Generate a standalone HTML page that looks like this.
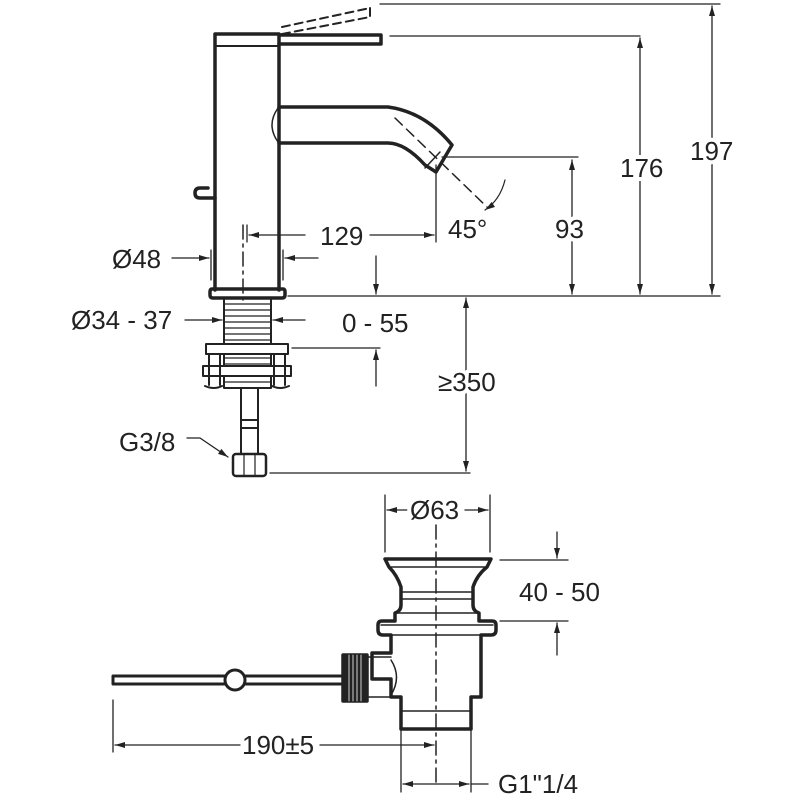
<!DOCTYPE html>
<html><head><style>html,body{margin:0;padding:0;background:#fff}svg{display:block}text{font-family:"Liberation Sans",sans-serif;fill:#222;font-size:26px;stroke:#fff;stroke-width:8px;paint-order:stroke;stroke-linejoin:round}</style></head>
<body>
<svg width="800" height="800" viewBox="0 0 800 800" xmlns="http://www.w3.org/2000/svg">
<defs>
<marker id="a" viewBox="0 0 10 6" refX="10" refY="3" markerWidth="14" markerHeight="6" markerUnits="userSpaceOnUse" orient="auto-start-reverse"><path d="M0,0L10,3L0,6z" fill="#222"/></marker>
</defs>
<g fill="none" stroke="#222" stroke-linecap="round" stroke-linejoin="round">
<g stroke-width="3.5">
<path d="M215,290V34H279V290"/>
<path d="M279,35H381V44H279"/>
<path d="M279,107H388Q425,112 452,145L436,172L425,165Q405,143 388,143H279"/>
<path d="M212,289H283Q285,289 285,292V295Q285,298 282,298H213Q210,298 210,295V292Q210,289 212,289Z"/>
<path d="M215,198H200Q195,198 195,193Q195,188 200,188H208"/>
</g>
<path d="M216,46H278" stroke-width="2"/>
<path d="M278,108Q266,125 278,142" stroke-width="1.5"/>
<path d="M282,27L370,8M282,34L370,17M370,8V17" stroke-width="2" stroke-dasharray="8,5"/>
<path d="M425,168L440,152" stroke-width="1.5"/>
<path d="M395,118L488,208" stroke-width="1.5" stroke-dasharray="10,6"/>
<path d="M505,180Q500,200 485,210" stroke-width="1.2" marker-end="url(#a)"/>
<path d="M243,225V300" stroke-width="1.5" stroke-dasharray="14,5,3,5"/>
<g stroke-width="2">
<rect x="224" y="298" width="47" height="90"/>
<path d="M224,304H271M224,310H271M224,316H271M224,322H271M224,328H271M224,334H271M224,340H271M224,346H271M224,352H271M224,358H271M224,364H271M224,370H271M224,376H271M224,382H271" stroke-width="1.3"/>
<rect x="206" y="344" width="82" height="10" fill="#fff"/>
<rect x="203" y="366" width="88" height="10" fill="#fff"/>
<path d="M209,354V385M220,354V385M274,354V385M285,354V385"/>
<path d="M205,386Q214,390 222,386M272,386Q280,390 289,386"/>
<rect x="241" y="388" width="17" height="66" fill="#fff"/>
<path d="M241,420H258M241,428H258"/>
<rect x="233" y="454" width="33" height="22" rx="3" fill="#fff" stroke-width="2.5"/>
<path d="M244,454V476M255,454V476" stroke-width="1.2"/>
</g>
<g stroke-width="1.3">
<path d="M380,4H720M390,36H640M442,157H578M288,296H720M292,348H380M270,473H470"/>
<path d="M712,6V294" marker-end="url(#a)" marker-start="url(#a)"/>
<path d="M640,38V294" marker-end="url(#a)" marker-start="url(#a)"/>
<path d="M572,160V294" marker-end="url(#a)" marker-start="url(#a)"/>
<path d="M466,298V471" marker-end="url(#a)" marker-start="url(#a)"/>
<path d="M436,165V242M247,225V242"/>
<path d="M305,235H249" marker-end="url(#a)"/><path d="M370,235H434" marker-end="url(#a)"/>
<path d="M211,250V280M283,250V280"/>
<path d="M172,258H209" marker-end="url(#a)"/><path d="M318,258H285" marker-end="url(#a)"/>
<path d="M185,320H222" marker-end="url(#a)"/><path d="M305,320H273" marker-end="url(#a)"/>
<path d="M376,256V294" marker-end="url(#a)"/><path d="M376,386V350" marker-end="url(#a)"/>
<path d="M187,438H200L228,457" marker-end="url(#a)"/>
</g>
<!-- drain -->
<g transform="translate(10,7)">
<g stroke-width="3.5">
<path d="M375,552H481L477,560Q467,568 463,580V598Q463,604 469,606V614H482Q486,614 486,618V623Q486,628 481,628H471V690H461V722H391V690H381V672H362V646H381V628H373Q368,628 368,623V618Q368,614 372,614H385V606Q391,604 391,598V580Q387,568 379,560Z"/>
<rect x="333" y="648" width="24" height="46" fill="#222"/>
</g>
<g stroke-width="1.5">
<path d="M381,560H475M391,585H463M391,592H463M385,606H469M371,618H483M381,628H471M391,704H461M357,650H381M357,690H381"/>
<path d="M381,653Q392,670 381,688"/>
<path d="M339,648V694M343,648V694M347,648V694M351,648V694" stroke="#fff" stroke-width="0.8"/>
</g>
</g>
<path d="M113,676H343M113,684H343M113,676V684" stroke-width="3"/>
<circle cx="235" cy="680" r="10" fill="#fff" stroke="#222" stroke-width="3"/>
<path d="M436,525V785" stroke="#222" stroke-width="1.5" stroke-dasharray="14,5,3,5"/>
<g stroke-width="1.3">
<path d="M385,495V552M490,495V552"/>
<path d="M410,510H387" marker-end="url(#a)"/><path d="M465,510H488" marker-end="url(#a)"/>
<path d="M500,560H568M500,621H568"/>
<path d="M557,532V558" marker-end="url(#a)"/><path d="M557,655V623" marker-end="url(#a)"/>
<path d="M113,700V752"/>
<path d="M240,745H115" marker-end="url(#a)"/><path d="M320,745H434" marker-end="url(#a)"/>
<path d="M401,728V792M471,728V792"/>
<path d="M436,784H403" marker-end="url(#a)"/><path d="M436,784H469" marker-end="url(#a)"/><path d="M471,784H488"/>
</g>
</g>
<text x="320" y="245">129</text>
<text x="448" y="238">45°</text>
<text x="555" y="238">93</text>
<text x="620" y="177">176</text>
<text x="690" y="160">197</text>
<text x="112" y="268">Ø48</text>
<text x="71" y="329">Ø34 - 37</text>
<text x="342" y="332">0 - 55</text>
<text x="438" y="391">≥350</text>
<text x="119" y="451">G3/8</text>
<text x="410" y="519">Ø63</text>
<text x="519" y="601">40 - 50</text>
<text x="242" y="754">190±5</text>
<text x="498" y="793">G1"1/4</text>
</svg>
</body></html>
